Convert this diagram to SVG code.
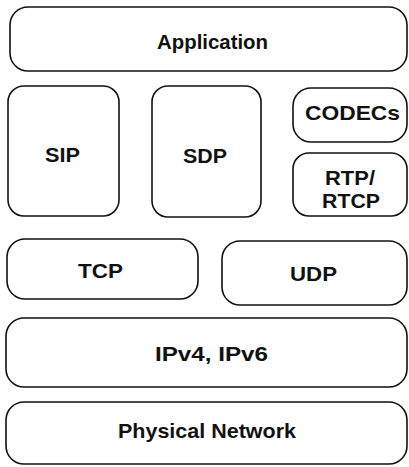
<svg xmlns="http://www.w3.org/2000/svg" width="409" height="467" viewBox="0 0 409 467">
<style>
rect{fill:#fff;stroke:#111;stroke-width:1.6}
text{font-family:"Liberation Sans",Arial,sans-serif;font-weight:bold;font-size:21px;fill:#111}
</style>
<rect x="0" y="0" width="409" height="467" style="stroke:none"/>
<g id="application"><rect x="10" y="7" width="397" height="64" rx="18"/><text x="157" y="49" textLength="111" lengthAdjust="spacingAndGlyphs">Application</text></g>
<g id="sip"><rect x="8" y="86" width="111" height="130" rx="16"/><text x="45" y="162" textLength="35" lengthAdjust="spacingAndGlyphs">SIP</text></g>
<g id="sdp"><rect x="152" y="86" width="109" height="131" rx="16"/><text x="183" y="163" textLength="44" lengthAdjust="spacingAndGlyphs">SDP</text></g>
<g id="codecs"><rect x="293" y="88" width="114" height="54" rx="18"/><text x="305" y="120" textLength="95" lengthAdjust="spacingAndGlyphs">CODECs</text></g>
<g id="rtp"><rect x="293" y="153" width="114" height="63" rx="16"/><text x="325" y="185" textLength="50" lengthAdjust="spacingAndGlyphs">RTP/</text><text x="322" y="208" textLength="58" lengthAdjust="spacingAndGlyphs">RTCP</text></g>
<g id="tcp"><rect x="7" y="239" width="191" height="60" rx="18"/><text x="78" y="278" textLength="45" lengthAdjust="spacingAndGlyphs">TCP</text></g>
<g id="udp"><rect x="222" y="241" width="185" height="64" rx="18"/><text x="290" y="281" textLength="47" lengthAdjust="spacingAndGlyphs">UDP</text></g>
<g id="ip"><rect x="6" y="318" width="401" height="69" rx="18"/><text x="155" y="361" textLength="113" lengthAdjust="spacingAndGlyphs">IPv4, IPv6</text></g>
<g id="physical"><rect x="6" y="402" width="401" height="62" rx="18"/><text x="118" y="438" textLength="178" lengthAdjust="spacingAndGlyphs">Physical Network</text></g>
<g id="connectors"></g>
</svg>
